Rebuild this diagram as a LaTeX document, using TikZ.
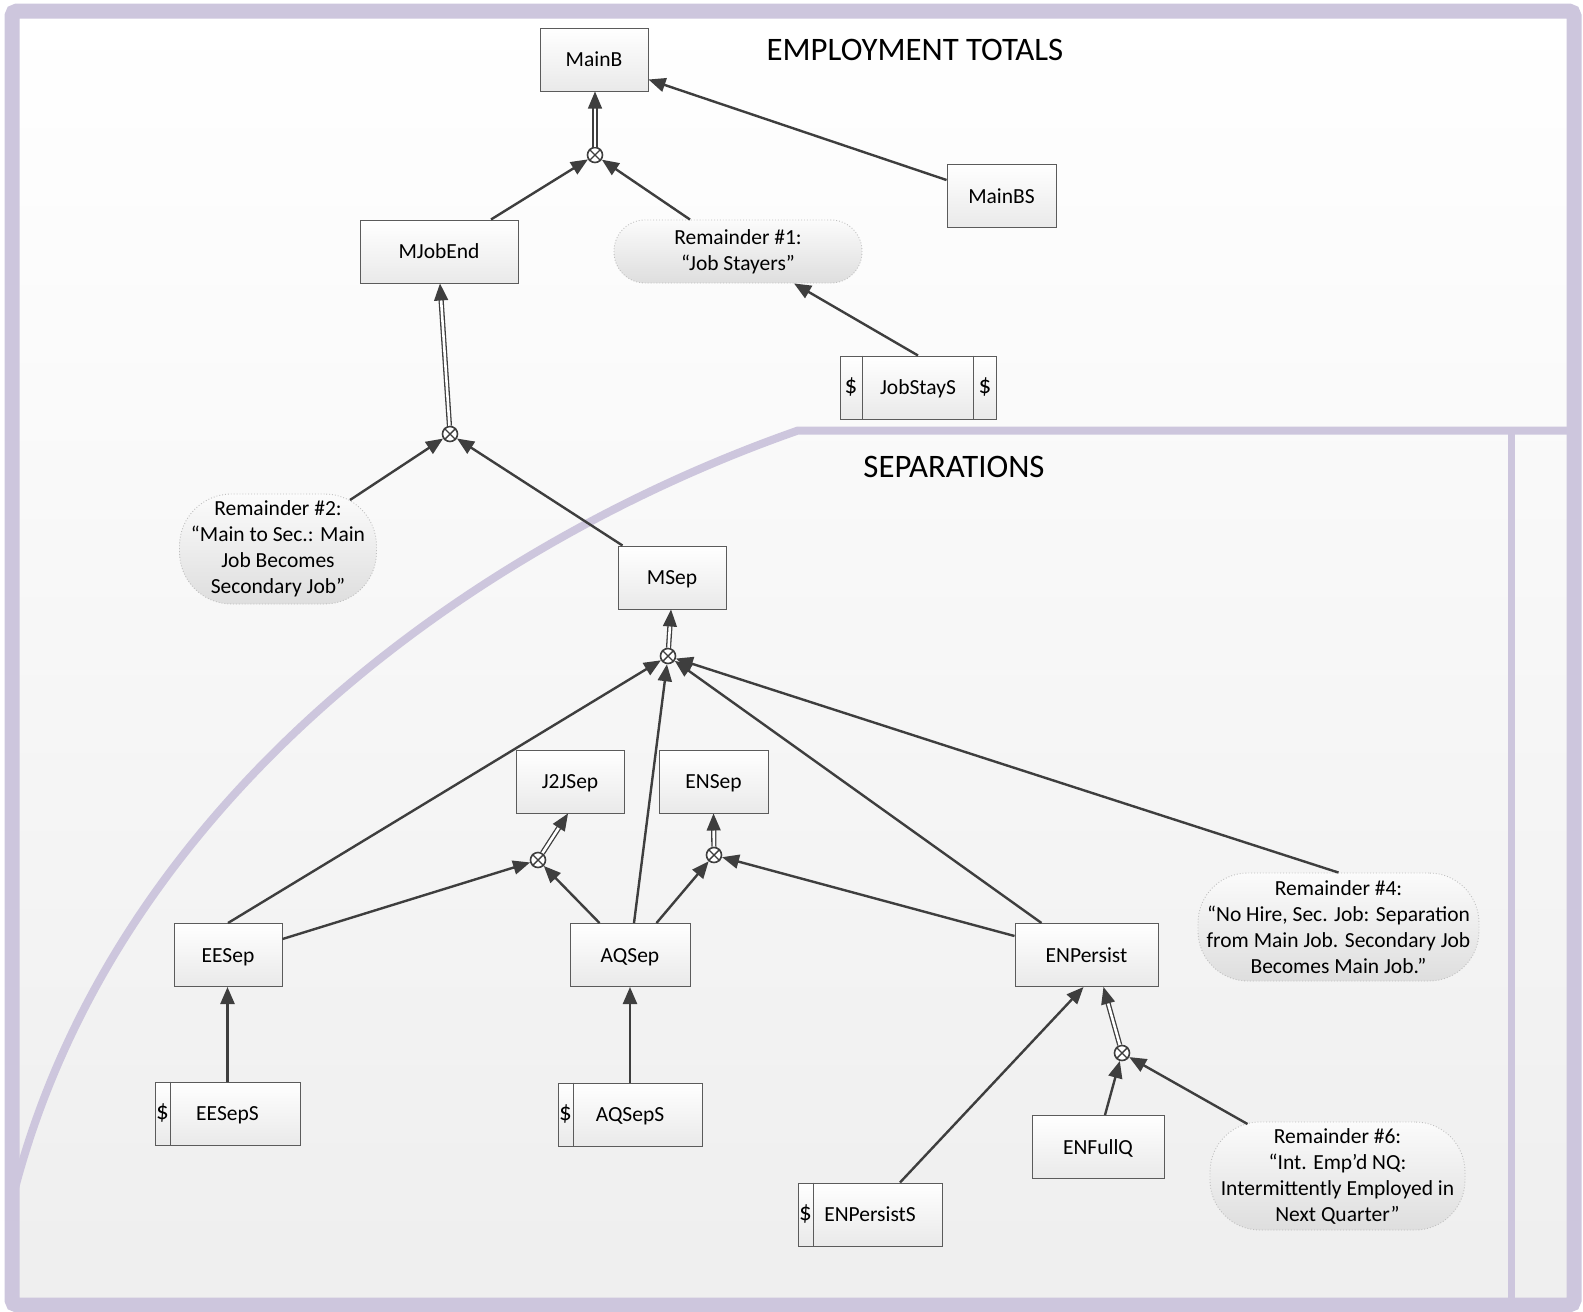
\documentclass[tikz,border=0pt]{standalone}
\usepackage{fontspec}
\setmainfont{Carlito}
\usetikzlibrary{arrows.meta,calc}
\definecolor{frame}{RGB}{205,198,221}
\definecolor{ln}{RGB}{62,62,62}
\tikzset{
  txt/.style={font=\fontsize{21.5}{26}\selectfont, text=black},
  box/.style={txt, draw=ln!85, line width=1pt, top color=white, bottom color=gray!17, minimum height=63pt, inner sep=0pt, text height=19pt, text depth=4.5pt},
  rem/.style={txt, draw=gray!50, dotted, line width=0.9pt, top color=gray!3, bottom color=gray!26, inner sep=0pt, align=center, minimum height=108pt},
  arr/.style={draw=ln, line width=2.4pt, -{Triangle[length=17pt,width=14pt]}},
  darr/.style={draw=ln, double=white, double distance=2.6pt, line width=1.3pt, -{Triangle[length=17pt,width=14pt]}},
  ox/.style={circle, draw=ln, line width=1.6pt, fill=white, minimum size=15pt, inner sep=0pt},
  divider/.style={draw=ln!85, line width=1pt},
  dollar/.style={font=\fontsize{25}{30}\selectfont, text=black, inner sep=0pt},
  ttl/.style={font=\fontsize{32.8}{38}\selectfont, text=black},
}
\newcommand{\oxcross}[1]{\draw[ln, line width=1.4pt] (#1.north west) -- (#1.south east) (#1.north east) -- (#1.south west);}
\begin{document}
\begin{tikzpicture}[x=1pt, y=-1pt]
\useasboundingbox (0,0) rectangle (1583,1312);
% background
\fill[top color=white, bottom color=gray!13] (12,11) rectangle (1574,1305);
% dividers
\draw[frame, line width=8pt] (1574,430.5) -- (798,430.5) .. controls (468,546) and (114,805) .. (14,1192);
\draw[frame, line width=7pt] (1511,430.5) -- (1511,1305);
% frame
\draw[frame, line width=15pt, rounded corners=5pt] (12,11) rectangle (1574,1305);

% titles
\node[ttl] (t1) at (915,50) {EMPLOYMENT TOTALS};
\node[ttl] (t2) at (954,467) {SEPARATIONS};

% nodes
\node[box, minimum width=108pt] (MainB) at (594,59.5) {MainB};
\node[box, minimum width=109pt] (MainBS) at (1001.5,196) {MainBS};
\node[box, minimum width=158pt] (MJobEnd) at (439,251.5) {MJobEnd};
\node[rem, minimum width=248pt, minimum height=63pt, rounded corners=31pt] (Rem1) at (738,251.5) {Remainder \#1:\\“Job Stayers”};
\node[box, minimum width=156pt] (JobStayS) at (918,387.5) {JobStayS};
\node[rem, minimum width=197pt, minimum height=110pt, rounded corners=52pt] (Rem2) at (278,549) {Remainder \#2:\\“Main to Sec.: Main\\Job Becomes\\Secondary Job”};
\node[box, minimum width=108pt] (MSep) at (672,577.5) {MSep};
\node[box, minimum width=108pt] (J2JSep) at (570,781.5) {J2JSep};
\node[box, minimum width=109pt] (ENSep) at (713.5,781.5) {ENSep};
\node[box, minimum width=108pt] (EESep) at (228,955) {EESep};
\node[box, minimum width=120pt] (AQSep) at (630,955) {AQSep};
\node[box, minimum width=143pt] (ENPersist) at (1086.5,955) {ENPersist};
\node[rem, minimum width=281pt, rounded corners=50pt] (Rem4) at (1338.5,927) {Remainder \#4:\\“No Hire, Sec. Job: Separation\\from Main Job. Secondary Job\\Becomes Main Job.”};
\node[box, minimum width=145pt] (EESepS) at (227.5,1113.5) {EESepS};
\node[box, minimum width=144pt] (AQSepS) at (630,1114.5) {AQSepS};
\node[box, minimum width=132pt] (ENFullQ) at (1098,1147) {ENFullQ};
\node[rem, minimum width=255pt, rounded corners=50pt] (Rem6) at (1337.5,1176) {Remainder \#6:\\“Int. Emp’d NQ:\\Intermittently Employed in\\Next Quarter”};
\node[box, minimum width=144pt] (ENPersistS) at (870,1214.5) {ENPersistS};

% dollar strips
\draw[divider] ($(JobStayS.north west)+(23,0)$) -- ($(JobStayS.south west)+(23,0)$);
\draw[divider] ($(JobStayS.north east)+(-23,0)$) -- ($(JobStayS.south east)+(-23,0)$);
\node[dollar] (d1) at ($(JobStayS.west)+(11.5,-1)$) {\$};
\node[dollar] (d2) at ($(JobStayS.east)+(-11.5,-1)$) {\$};
\draw[divider] ($(EESepS.north west)+(16,0)$) -- ($(EESepS.south west)+(16,0)$);
\node[dollar] (d3) at ($(EESepS.west)+(8,-1)$) {\$};
\draw[divider] ($(AQSepS.north west)+(16,0)$) -- ($(AQSepS.south west)+(16,0)$);
\node[dollar] (d4) at ($(AQSepS.west)+(8,-1)$) {\$};
\draw[divider] ($(ENPersistS.north west)+(16,0)$) -- ($(ENPersistS.south west)+(16,0)$);
\node[dollar] (d5) at ($(ENPersistS.west)+(8,-1)$) {\$};

% otimes
\node[ox] (o1) at (595,155) {};
\node[ox] (o2) at (450,434) {};
\node[ox] (o3) at (668,656) {};
\node[ox] (oJ) at (538,860) {};
\node[ox] (oE) at (714,855) {};
\node[ox] (oP) at (1122,1053) {};
\oxcross{o1}\oxcross{o2}\oxcross{o3}\oxcross{oJ}\oxcross{oE}\oxcross{oP}

% connectors
\draw[arr] ($(MJobEnd.north)+(52,0)$) -- (o1);
\draw[arr] ($(Rem1.north)+(-48,0)$) -- (o1);
\draw[darr] (o1) -- (o1 |- MainB.south);
\draw[arr] ($(MainBS.west)+(0,-16)$) -- ($(MainB.east)+(0,20)$);
\draw[arr] (JobStayS.north) -- ($(Rem1.south)+(56,0)$);
\draw[darr] (o2) -- ($(MJobEnd.south)+(1,0)$);
\draw[arr] ($(Rem2.center)+(72,-49)$) -- (o2);
\draw[arr] ($(MSep.north west)+(5,0)$) -- (o2);
\draw[darr] (o3) -- ($(MSep.south)+(-1,0)$);
\draw[arr] (EESep.north) -- (o3);
\draw[arr] ($(AQSep.north)+(4,0)$) -- (o3);
\draw[arr] ($(ENPersist.north west)+(27,0)$) -- (o3);
\draw[arr] (Rem4.north) -- (o3);
\draw[arr] ($(EESep.east)+(0,-16)$) -- (oJ);
\draw[arr] ($(AQSep.north west)+(30,0)$) -- (oJ);
\draw[darr] (oJ) -- ($(J2JSep.south)+(-2,0)$);
\draw[arr] ($(AQSep.north east)+(-34,0)$) -- (oE);
\draw[arr] ($(ENPersist.west)+(0,-19)$) -- (oE);
\draw[darr] (oE) -- (ENSep.south);
\draw[arr] (EESepS.north) -- (EESepS.north |- EESep.south);
\draw[arr] (AQSepS.north) -- (AQSepS.north |- AQSep.south);
\draw[arr] ($(ENPersistS.north)+(30,0)$) -- ($(ENPersist.south)+(-3,0)$);
\draw[darr] (oP) -- ($(ENPersist.south)+(17,0)$);
\draw[arr] ($(ENFullQ.north)+(7,0)$) -- (oP);
\draw[arr] ($(Rem6.center)+(-90,-52)$) -- (oP);
\end{tikzpicture}
\end{document}
